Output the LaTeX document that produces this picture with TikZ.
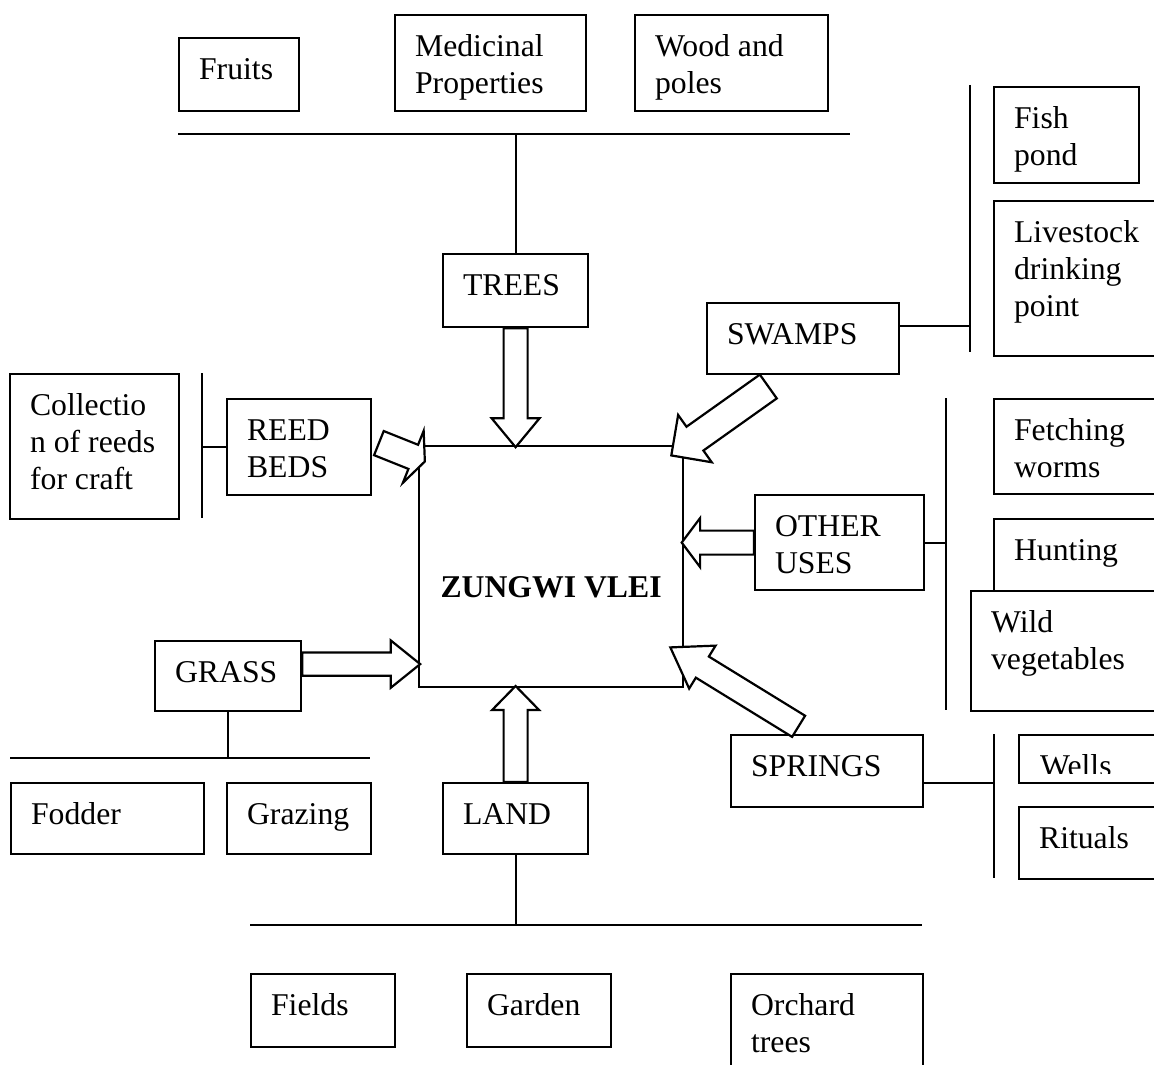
\documentclass[tikz,border=0pt]{standalone}
\usepackage{fontspec}
\setmainfont{Liberation Serif}
\usetikzlibrary{positioning}

\newcommand{\boxfont}{\fontsize{31.7}{37}\selectfont}
% start, angle, length, head length, shaft half width, head half width
\newcommand{\blockarrow}[6]{%
  \draw[arrow shape, shift={(#1)}, rotate=#2]
    (0,#5) -- ({#3-#4},#5) -- ({#3-#4},#6) -- (#3,0)
    -- ({#3-#4},-#6) -- ({#3-#4},-#5) -- (0,-#5) -- cycle;}

\begin{document}
\begin{tikzpicture}[x=1pt, y=-1pt, line width=2.2pt,
  main box/.style 2 args={draw, fill=white, anchor=north west,
    inner xsep=20pt, inner ysep=0pt, align=flush left, font=\boxfont,
    /utils/exec={\pgfmathsetlengthmacro\boxw{#1-40}\pgfmathsetlengthmacro\boxd{#2-41}},
    text width=\boxw, text height=41pt, text depth=\boxd},
  arrow shape/.style={draw, fill=white, line width=2.2pt}]

\useasboundingbox (0,0) rectangle (1154,1065);
\clip (0,0) rectangle (1154,1065);

% top row
\node[main box={120}{73}] (fruits) at (178,37) {Fruits};
\node[main box={191}{96}] (medicinal) at (394,14) {Medicinal\\Properties};
\node[main box={193}{96}] (wood) at (634,14) {Wood and\\poles};
\node[main box={145}{73}] (trees) at (442,253) {TREES};

% right side
\node[main box={192}{71}] (swamps) at (706,302) {SWAMPS};
\node[main box={145}{96}] (fish) at (993,86) {Fish\\pond};
\node[main box={177}{155}] (livestock) at (993,200) {Livestock\\drinking\\point};
\node[main box={169}{95}] (other) at (754,494) {OTHER\\USES};
\node[main box={177}{95}] (fetching) at (993,398) {Fetching\\worms};
\node[main box={177}{100}] (hunting) at (993,518) {Hunting};
\node[main box={200}{120}] (wild) at (970,590) {Wild\\vegetables};
\node[main box={192}{72}] (springs) at (730,734) {SPRINGS};
\node[main box={152}{48}, path picture={
    \clip (path picture bounding box.north west) rectangle ([yshift=10pt]path picture bounding box.south east);
    \node[anchor=base west, inner sep=0pt, font=\boxfont] (wells-t)
      at ([xshift=20pt, yshift=-41pt]path picture bounding box.north west) {Wells};}]
  (wells) at (1018,734) {};
\node[main box={152}{72}] (rituals) at (1018,806) {Rituals};

% left side
\node[main box={169}{145}] (collection) at (9,373) {Collectio\\n of reeds\\for craft};
\node[main box={144}{96}] (reed) at (226,398) {REED\\BEDS};
\node[main box={146}{70}] (grass) at (154,640) {GRASS};
\node[main box={193}{71}] (fodder) at (10,782) {Fodder};
\node[main box={144}{71}] (grazing) at (226,782) {Grazing};

% bottom
\node[main box={145}{71}] (land) at (442,782) {LAND};
\node[main box={144}{73}] (fields) at (250,973) {Fields};
\node[main box={144}{73}] (garden) at (466,973) {Garden};
\node[main box={192}{110}] (orchard) at (730,973) {Orchard\\trees};

% centre
\node[draw, fill=white, anchor=north west, inner sep=0pt,
  minimum width=264pt, minimum height=241pt] (vlei) at (418,445) {};
\node[font=\boxfont\bfseries, inner sep=0pt] (vlei-t)
  at ([yshift=-21pt]vlei.center) {ZUNGWI VLEI};

% branch lines
\coordinate (top-l) at (178,134);
\coordinate (top-r) at (850,134);
\draw (top-l) -- (top-r);
\draw (trees.north) -- (trees.north |- top-l);

\coordinate (swamp-bar-t) at (970,85);
\coordinate (swamp-bar-b) at (970,352);
\coordinate (swamp-out) at ([yshift=12.5pt]swamps.east);
\draw (swamp-bar-t) -- (swamp-bar-b);
\draw (swamp-out) -- (swamp-out -| swamp-bar-t);

\coordinate (reed-bar-t) at (202,373);
\coordinate (reed-bar-b) at (202,518);
\draw (reed-bar-t) -- (reed-bar-b);
\draw (reed.west) -- (reed.west -| reed-bar-t);

\coordinate (other-bar-t) at (946,398);
\coordinate (other-bar-b) at (946,710);
\draw (other-bar-t) -- (other-bar-b);
\draw (other.east) -- (other.east -| other-bar-t);

\coordinate (spring-bar-t) at (994,734);
\coordinate (spring-bar-b) at (994,878);
\coordinate (spring-out) at ([yshift=-12pt]springs.east);
\draw (spring-bar-t) -- (spring-bar-b);
\draw (spring-out) -- (spring-out -| spring-bar-t);

\coordinate (grass-l) at (10,758);
\coordinate (grass-r) at (370,758);
\draw (grass-l) -- (grass-r);
\draw (grass.south) -- (grass.south |- grass-l);

\coordinate (land-l) at (250,925);
\coordinate (land-r) at (922,925);
\draw (land-l) -- (land-r);
\draw (land.south) -- (land.south |- land-l);

% block arrows into the vlei
\blockarrow{trees.south}{-90}{119}{29}{12}{24}
\blockarrow{[xshift=6.7pt, yshift=4pt]reed.east}{-21.8}{49.5}{12.5}{13}{28}
\blockarrow{[xshift=-34.8pt, yshift=-11.3pt]swamps.south}{-144.6}{119}{29}{14.6}{29}
\blockarrow{other.west}{180}{72.3}{18.4}{12}{24.5}
\blockarrow{[xshift=-28.5pt, yshift=7.7pt]springs.north}{148.4}{150.6}{37.6}{12.4}{25.2}
\blockarrow{[yshift=12pt]grass.east}{0}{118}{29.5}{11.7}{23.7}
\blockarrow{land.north}{90}{96}{24}{12}{23.5}

\end{tikzpicture}
\end{document}
